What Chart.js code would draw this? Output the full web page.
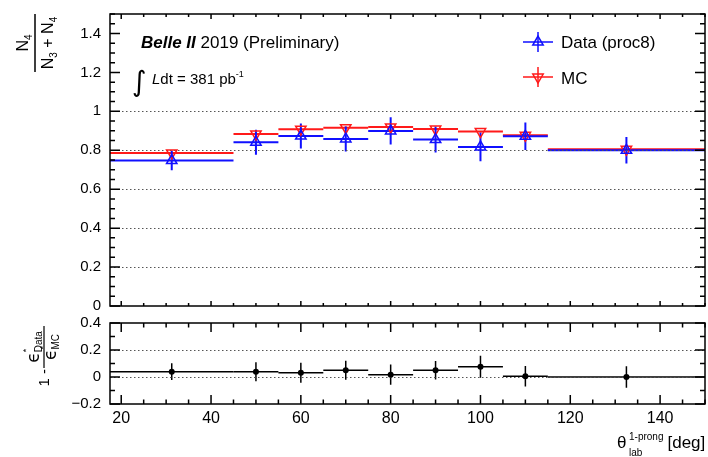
<!DOCTYPE html>
<html>
<head>
<meta charset="utf-8">
<script src="https://cdn.jsdelivr.net/npm/chart.js@4.4.0/dist/chart.umd.min.js"></script>
<style>
  body { margin: 0; background: #fff; }
  .wrap { position: relative; width: 708px; height: 457px; overflow: hidden; }
  .wrap canvas { position: absolute; left: 0; }
</style>
</head>
<body>
<div class="wrap">
  <canvas id="fracChart" width="708" height="316" style="top:0"></canvas>
  <canvas id="diffChart" width="708" height="151" style="top:306px"></canvas>
</div>
<script>
let binEdges = [17.5, 45, 55, 65, 75, 85, 95, 105, 115, 150];
let binCenters = [31.25, 50, 60, 70, 80, 90, 100, 110, 132.5];

let dataFrac = [0.747, 0.841, 0.873, 0.858, 0.899, 0.855, 0.817, 0.872, 0.800];
let dataErr = [0.050, 0.064, 0.064, 0.064, 0.070, 0.067, 0.073, 0.070, 0.068];
let mcFrac = [0.786, 0.884, 0.908, 0.916, 0.920, 0.909, 0.896, 0.877, 0.805];
let mcErr = [0.006, 0.006, 0.006, 0.006, 0.006, 0.006, 0.006, 0.006, 0.006];

let effDiff = [0.039, 0.039, 0.032, 0.050, 0.017, 0.050, 0.076, 0.005, 0.000];
let effDiffErr = [0.062, 0.070, 0.074, 0.070, 0.075, 0.068, 0.082, 0.076, 0.080];

let xTicks = [20, 40, 60, 80, 100, 120, 140];
let fracTicks = [0, 0.2, 0.4, 0.6, 0.8, 1, 1.2, 1.4];
let diffTicks = [-0.2, 0, 0.2, 0.4];

const FONT = "'Liberation Sans', Arial, Helvetica, sans-serif";
const BLUE = "#1010ff";
const RED = "#ff1a1a";

function points(ys){
  return binCenters.map(function(x, i){ return {x: x, y: ys[i]}; });
}

function fmt(v){
  let s = String(+v.toFixed(1));
  return s.replace("-", "\u2212");
}

// draws a row of text pieces, each with its own font and vertical offset
function drawRuns(ctx, x, y, runs){
  runs.forEach(function(r){
    ctx.font = r.font;
    ctx.fillText(r.t, x, y + (r.dy || 0));
    if(!r.stay) x += ctx.measureText(r.t).width;
  });
  return x;
}

function runsWidth(ctx, runs){
  let w = 0;
  runs.forEach(function(r){
    ctx.font = r.font;
    if(!r.stay) w += ctx.measureText(r.t).width;
  });
  return w;
}

// horizontal bin-width bars and vertical error bars
const errorBars = {
  id: "errorBars",
  beforeDatasetsDraw(chart){
    let ctx = chart.ctx;
    let xs = chart.scales.x, ys = chart.scales.y;
    ctx.save();
    ctx.beginPath();
    ctx.rect(chart.chartArea.left, chart.chartArea.top, chart.chartArea.width, chart.chartArea.height);
    ctx.clip();
    for(let d = chart.data.datasets.length - 1; d >= 0; d--){
      let ds = chart.data.datasets[d];
      if(!ds.errors) continue;
      ctx.strokeStyle = ds.borderColor;
      ctx.lineWidth = ds.barLine || 2;
      ds.data.forEach(function(p, i){
        let y = ys.getPixelForValue(p.y);
        let x = xs.getPixelForValue(p.x);
        ctx.beginPath();
        ctx.moveTo(xs.getPixelForValue(binEdges[i]), y);
        ctx.lineTo(xs.getPixelForValue(binEdges[i + 1]), y);
        ctx.moveTo(x, ys.getPixelForValue(p.y - ds.errors[i]));
        ctx.lineTo(x, ys.getPixelForValue(p.y + ds.errors[i]));
        ctx.stroke();
      });
    }
    ctx.restore();
  }
};

// dotted reference lines, frame and inward tick marks on all four sides
const frame = {
  id: "frame",
  beforeDatasetsDraw(chart, args, opts){
    let ctx = chart.ctx, a = chart.chartArea, ys = chart.scales.y;
    ctx.save();
    ctx.strokeStyle = "#555";
    ctx.lineWidth = 1;
    ctx.setLineDash([1.5, 2.5]);
    opts.grid.forEach(function(v){
      let y = Math.round(ys.getPixelForValue(v)) + 0.5;
      ctx.beginPath();
      ctx.moveTo(a.left, y);
      ctx.lineTo(a.right, y);
      ctx.stroke();
    });
    ctx.restore();
  },
  afterDatasetsDraw(chart, args, opts){
    let ctx = chart.ctx, a = chart.chartArea;
    let xs = chart.scales.x, ys = chart.scales.y;
    ctx.save();
    ctx.strokeStyle = "#000";
    ctx.lineWidth = 1.5;
    ctx.beginPath();
    for(let v = 20; v <= xs.max + 1e-9; v += 5){
      let x = xs.getPixelForValue(v);
      let len = (v % 20 === 0) ? opts.xMajor : opts.xMinor;
      ctx.moveTo(x, a.bottom); ctx.lineTo(x, a.bottom - len);
      ctx.moveTo(x, a.top); ctx.lineTo(x, a.top + len);
    }
    let n = Math.round((ys.max - ys.min) / opts.yStep);
    for(let k = 0; k <= n; k++){
      let v = ys.min + k * opts.yStep;
      let y = ys.getPixelForValue(v);
      let major = Math.abs(Math.round(v * 100)) % 20 === 0;
      let len = major ? opts.yMajor : opts.yMinor;
      ctx.moveTo(a.left, y); ctx.lineTo(a.left + len, y);
      ctx.moveTo(a.right, y); ctx.lineTo(a.right - len, y);
    }
    ctx.stroke();
    ctx.strokeRect(a.left, a.top, a.width, a.height);
    ctx.restore();
  }
};

// experiment label, luminosity and legend in the upper panel
const fracText = {
  id: "fracText",
  afterDraw(chart){
    let ctx = chart.ctx;
    ctx.save();
    ctx.fillStyle = "#000";
    ctx.textBaseline = "alphabetic";

    drawRuns(ctx, 141, 48, [
      {t: "Belle II", font: "bold italic 17px " + FONT},
      {t: " 2019 (Preliminary)", font: "17px " + FONT}
    ]);

    ctx.font = "28px 'DejaVu Sans', sans-serif";
    ctx.fillText("\u222B", 132, 91);
    drawRuns(ctx, 152, 84, [
      {t: "L", font: "italic 15px " + FONT},
      {t: "dt = 381 pb", font: "15px " + FONT},
      {t: "-1", font: "9px " + FONT, dy: -7}
    ]);

    // legend
    let items = [
      {label: "Data (proc8)", color: BLUE, rot: 0, y: 42, base: 48},
      {label: "MC", color: RED, rot: 180, y: 77, base: 84}
    ];
    items.forEach(function(it){
      ctx.strokeStyle = it.color;
      ctx.lineWidth = 1.5;
      ctx.beginPath();
      ctx.moveTo(523, it.y); ctx.lineTo(553, it.y);
      ctx.moveTo(538, it.y - 10); ctx.lineTo(538, it.y + 10);
      ctx.stroke();
      ctx.fillStyle = "rgba(0,0,0,0)";
      Chart.helpers.drawPoint(ctx, {pointStyle: "triangle", radius: 6, rotation: it.rot, borderWidth: 1.5}, 538, it.y);
      ctx.fillStyle = "#000";
      ctx.font = "17px " + FONT;
      ctx.fillText(it.label, 561, it.base);
    });

    // y title: N4 / (N3 + N4)
    ctx.translate(35, 43);
    ctx.rotate(-Math.PI / 2);
    ctx.fillRect(-29, -0.75, 58, 1.5);
    let big = "16px " + FONT, small = "10px " + FONT;
    let num = [{t: "N", font: big}, {t: "4", font: small, dy: 4}];
    let den = [{t: "N", font: big}, {t: "3", font: small, dy: 4}, {t: " + ", font: big},
               {t: "N", font: big}, {t: "4", font: small, dy: 4}];
    drawRuns(ctx, -runsWidth(ctx, num) / 2, -7, num);
    drawRuns(ctx, -runsWidth(ctx, den) / 2, 18, den);
    ctx.restore();
  }
};

// y title and x title of the lower panel
const diffText = {
  id: "diffText",
  afterDraw(chart){
    let ctx = chart.ctx;
    ctx.save();
    ctx.fillStyle = "#000";

    // x title: theta_lab^(1-prong) [deg]
    ctx.font = "17px " + FONT;
    ctx.fillText("\u03B8", 617, 142);
    ctx.font = "10px " + FONT;
    ctx.fillText("lab", 629, 150);
    ctx.fillText("1-prong", 629, 134);
    let w = ctx.measureText("1-prong").width;
    ctx.font = "17px " + FONT;
    ctx.fillText("[deg]", 629 + w + 4, 142);

    // y title: 1 - eps*_Data / eps*_MC
    ctx.translate(44, 41);
    ctx.rotate(-Math.PI / 2);
    ctx.fillRect(-21, -0.6, 42, 1.2);
    let eps = "17px 'DejaVu Sans', " + FONT, sub = "10px " + FONT, sup = "9px " + FONT;
    let num = [{t: "\u03F5", font: eps}, {t: "*", font: sup, dy: -10, stay: true}, {t: "Data", font: sub, dy: 3}];
    let den = [{t: "\u03F5", font: eps}, {t: "*", font: sup, dy: -10, stay: true}, {t: "MC", font: sub, dy: 3}];
    drawRuns(ctx, -runsWidth(ctx, num) / 2, -5, num);
    drawRuns(ctx, -runsWidth(ctx, den) / 2, 12, den);
    ctx.font = "15px " + FONT;
    ctx.textAlign = "right";
    ctx.fillText("1 -", -22, 5);
    ctx.restore();
  }
};

function xScale(show){
  return {
    type: "linear",
    min: binEdges[0],
    max: binEdges[binEdges.length - 1],
    display: show,
    grid: {display: false, drawTicks: false},
    border: {display: false},
    afterBuildTicks: function(s){ s.ticks = xTicks.map(function(v){ return {value: v}; }); },
    afterFit: function(s){
      if(show) s.height = 53;
      s.paddingLeft = 0; s.paddingRight = 0;
    },
    ticks: {color: "#000", font: {family: FONT, size: 16}, padding: 5, maxRotation: 0, autoSkip: false}
  };
}

function yScale(min, max, ticks, size){
  return {
    min: min,
    max: max,
    grid: {display: false, drawTicks: false},
    border: {display: false},
    afterBuildTicks: function(s){ s.ticks = ticks.map(function(v){ return {value: v}; }); },
    afterFit: function(s){
      s.width = 110;
      s.paddingTop = 0; s.paddingBottom = 0;
    },
    ticks: {color: "#000", font: {family: FONT, size: size}, padding: 9, callback: function(v){ return fmt(v); }}
  };
}

let fracChart = new Chart(document.getElementById("fracChart"), {
  type: "scatter",
  data: {
    datasets: [
      {
        label: "Data (proc8)",
        data: points(dataFrac),
        errors: dataErr,
        borderColor: BLUE,
        backgroundColor: "rgba(0,0,0,0)",
        pointStyle: "triangle",
        pointRadius: 6,
        pointBorderWidth: 1.5
      },
      {
        label: "MC",
        data: points(mcFrac),
        errors: mcErr,
        borderColor: RED,
        backgroundColor: "rgba(0,0,0,0)",
        pointStyle: "triangle",
        rotation: 180,
        pointRadius: 6,
        pointBorderWidth: 1.5
      }
    ]
  },
  options: {
    responsive: false,
    animation: false,
    layout: {autoPadding: false, padding: {top: 14, bottom: 10, left: 0, right: 3}},
    scales: {
      x: xScale(false),
      y: yScale(0, 1.5, fracTicks, 15)
    },
    plugins: {
      legend: {display: false},
      tooltip: {enabled: false},
      frame: {grid: [0.2, 0.4, 0.6, 0.8, 1.0], yStep: 0.05, xMajor: 5, xMinor: 3, yMajor: 10, yMinor: 5}
    }
  },
  plugins: [errorBars, frame, fracText]
});

let diffChart = new Chart(document.getElementById("diffChart"), {
  type: "scatter",
  data: {
    datasets: [
      {
        label: "1 - eff ratio",
        data: points(effDiff),
        errors: effDiffErr,
        barLine: 1.5,
        borderColor: "#000",
        backgroundColor: "#000",
        pointStyle: "circle",
        pointRadius: 3,
        pointBorderWidth: 0
      }
    ]
  },
  options: {
    responsive: false,
    animation: false,
    layout: {autoPadding: false, padding: {top: 17, bottom: 0, left: 0, right: 3}},
    scales: {
      x: xScale(true),
      y: yScale(-0.2, 0.4, diffTicks, 15)
    },
    plugins: {
      legend: {display: false},
      tooltip: {enabled: false},
      frame: {grid: [0, 0.2], yStep: 0.1, xMajor: 9, xMinor: 4.5, yMajor: 10, yMinor: 5}
    }
  },
  plugins: [errorBars, frame, diffText]
});
</script>
</body>
</html>
